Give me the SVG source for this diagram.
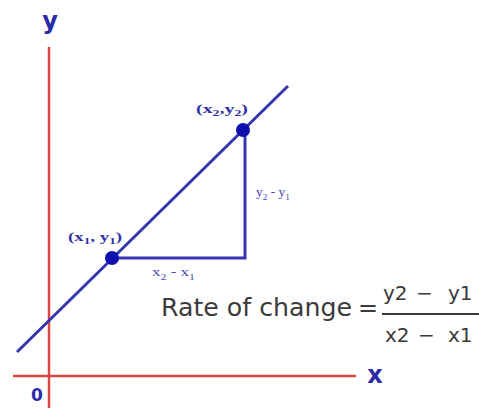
<svg xmlns="http://www.w3.org/2000/svg" width="479" height="408" viewBox="0 0 479 408">
<style>
.axis{stroke:#dd4444;stroke-width:2.5;fill:none}
.blue{stroke:#3535b0;stroke-width:3;fill:none}
.pt{fill:#1010b0}
.ax{font-family:"DejaVu Sans",sans-serif;font-weight:bold;fill:#2b2ba8}
.lbl{font-family:"Liberation Serif",serif;font-weight:bold;fill:#3030a8;font-size:13px}
.lt{font-weight:normal;fill:#4848b8}
.sub{font-size:9px}
.rate{font-family:"DejaVu Sans",sans-serif;fill:#3a3a3a;font-size:24px}
.frac{font-family:"DejaVu Sans",sans-serif;fill:#3a3a3a;font-size:20px}
</style>
<rect width="479" height="408" fill="#ffffff"/>
<g id="connectors">
<line class="axis" x1="49" y1="47" x2="49" y2="408"/>
<line class="axis" x1="13" y1="376" x2="356" y2="376"/>
<line class="blue" x1="17" y1="352" x2="288" y2="86"/>
<polyline class="blue" points="112,258 245,258 245,130"/>
<line x1="382" y1="314" x2="479" y2="314" stroke="#3a3a3a" stroke-width="2.2"/>
</g>
<g id="axis-y"><text class="ax" x="50" y="29" font-size="24" text-anchor="middle">y</text></g>
<g id="axis-x"><text class="ax" x="375" y="383" font-size="24" text-anchor="middle">x</text></g>
<g id="origin"><text class="ax" x="31" y="401" font-size="17">0</text></g>
<g id="p1"><circle class="pt" cx="112" cy="258" r="7"/><text class="lbl" x="68" y="241" textLength="54" lengthAdjust="spacingAndGlyphs">(x<tspan class="sub" dy="3">1</tspan><tspan dy="-3">, y</tspan><tspan class="sub" dy="3">1</tspan><tspan dy="-3">)</tspan></text></g>
<g id="p2"><circle class="pt" cx="243" cy="130" r="7"/><text class="lbl" x="196" y="113" textLength="52" lengthAdjust="spacingAndGlyphs">(x<tspan class="sub" dy="3">2</tspan><tspan dy="-3">,y</tspan><tspan class="sub" dy="3">2</tspan><tspan dy="-3">)</tspan></text></g>
<g id="dx"><text class="lbl lt" x="152" y="276" textLength="43" lengthAdjust="spacingAndGlyphs">x<tspan class="sub" dy="4">2</tspan><tspan dy="-4"> - x</tspan><tspan class="sub" dy="4">1</tspan></text></g>
<g id="dy"><text class="lbl lt" x="256" y="196" textLength="34" lengthAdjust="spacingAndGlyphs">y<tspan class="sub" dy="4">2</tspan><tspan dy="-4"> - y</tspan><tspan class="sub" dy="4">1</tspan></text></g>
<g id="formula">
<text class="rate" x="161" y="316" textLength="191" lengthAdjust="spacingAndGlyphs">Rate of change</text>
<text class="rate" x="358" y="316">=</text>
<text class="frac" x="383" y="300">y2</text>
<text class="frac" x="416" y="300">−</text>
<text class="frac" x="448" y="300">y1</text>
<text class="frac" x="385" y="342">x2</text>
<text class="frac" x="418" y="342">−</text>
<text class="frac" x="448" y="342">x1</text>
</g>
</svg>
